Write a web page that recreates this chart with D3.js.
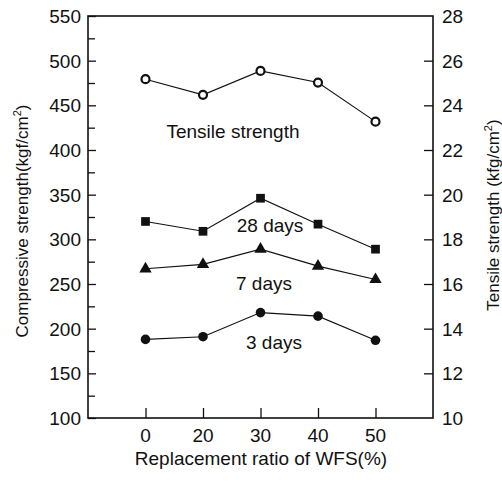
<!DOCTYPE html>
<html>
<head>
<meta charset="utf-8">
<script src="https://cdn.jsdelivr.net/npm/d3@7/dist/d3.min.js"></script>
<style>
  html, body { margin: 0; padding: 0; background: #fff; }
  svg { display: block; }
  text { font-family: "Liberation Sans", Arial, Helvetica, sans-serif; fill: #111; }
</style>
</head>
<body>
<svg id="chart" width="502" height="481"></svg>
<script>
// WFS replacement ratios (%) on the x axis
const ratios = ["0", "20", "30", "40", "50"];

// Compressive strength (kgf/cm²), left axis
const days3  = [188, 191, 218, 214, 187];
const days7  = [267, 272, 289, 270, 255];
const days28 = [320, 309, 346, 317, 289];

// Tensile strength (kgf/cm²), right axis
const tensile = [25.17, 24.47, 25.54, 25.02, 23.27];

const leftTicks  = [100, 150, 200, 250, 300, 350, 400, 450, 500, 550];
const leftMinor  = [125, 175, 225, 275, 325, 375, 425, 475, 525];
const rightTicks = [10, 12, 14, 16, 18, 20, 22, 24, 26, 28];

const svg = d3.select("#chart");
const plot = { left: 88, right: 433, top: 16, bottom: 418 };

// categories are evenly spaced with one slot of padding on both ends
const x = d3.scaleLinear().domain([-1, ratios.length]).range([plot.left, plot.right]);
const yL = d3.scaleLinear().domain([100, 550]).range([plot.bottom, plot.top]);
const yR = d3.scaleLinear().domain([10, 28]).range([plot.bottom, plot.top]);

const FS = 19;

// frame
svg.append("rect")
  .attr("x", plot.left).attr("y", plot.top)
  .attr("width", plot.right - plot.left).attr("height", plot.bottom - plot.top)
  .attr("fill", "none").attr("stroke", "#111").attr("stroke-width", 1.6);

// left axis: inward ticks, labels outside
const gL = svg.append("g").attr("transform", `translate(${plot.left},0)`);
gL.call(d3.axisRight(yL).tickValues(leftTicks).tickSize(8).tickFormat(""));
gL.append("g").call(d3.axisRight(yL).tickValues(leftMinor).tickSize(7).tickFormat(""));
gL.selectAll(".domain").remove();
gL.selectAll("line").attr("stroke", "#111").attr("stroke-width", 1.3);
gL.selectAll("text.lbl").data(leftTicks).join("text").attr("class", "lbl")
  .attr("x", -7).attr("y", d => yL(d)).attr("dy", "0.36em")
  .attr("text-anchor", "end").style("font-size", FS + "px").text(d => d);

// right axis
const gR = svg.append("g").attr("transform", `translate(${plot.right},0)`);
gR.call(d3.axisLeft(yR).tickValues(rightTicks.slice(1, -1)).tickSize(9).tickFormat(""));
gR.selectAll(".domain").remove();
gR.selectAll("line").attr("stroke", "#111").attr("stroke-width", 1.3);
gR.selectAll("text.lbl").data(rightTicks).join("text").attr("class", "lbl")
  .attr("x", 9).attr("y", d => yR(d)).attr("dy", "0.36em")
  .attr("text-anchor", "start").style("font-size", FS + "px").text(d => d);

// bottom axis: upward ticks at each category
const gB = svg.append("g").attr("transform", `translate(0,${plot.bottom})`);
gB.call(d3.axisTop(x).tickValues(d3.range(ratios.length)).tickSize(10).tickFormat(""));
gB.selectAll(".domain").remove();
gB.selectAll("line").attr("stroke", "#111").attr("stroke-width", 1.3);
gB.selectAll("text.lbl").data(ratios).join("text").attr("class", "lbl")
  .attr("x", (d, i) => x(i)).attr("y", 24)
  .attr("text-anchor", "middle").style("font-size", FS + "px").text(d => d);

// axis titles
svg.append("text").attr("x", 261).attr("y", 465)
  .attr("text-anchor", "middle").style("font-size", FS + "px")
  .text("Replacement ratio of WFS(%)");

const tl = svg.append("text")
  .attr("transform", `translate(22,${221}) rotate(-90)`)
  .attr("dy", "0.35em").attr("text-anchor", "middle").style("font-size", "17px");
tl.append("tspan").text("Compressive strength(kgf/cm");
tl.append("tspan").attr("dy", -7).style("font-size", "11px").text("2");
tl.append("tspan").attr("dy", 7).text(")");

const tr = svg.append("text")
  .attr("transform", `translate(493,${215}) rotate(-90)`)
  .attr("dy", "0.35em").attr("text-anchor", "middle").style("font-size", "17px");
tr.append("tspan").text("Tensile strength (kfg/cm");
tr.append("tspan").attr("dy", -7).style("font-size", "11px").text("2");
tr.append("tspan").attr("dy", 7).text(")");

// series
const series = [
  { values: tensile, y: yR, marker: "open" },
  { values: days28, y: yL, marker: "square" },
  { values: days7, y: yL, marker: "triangle" },
  { values: days3, y: yL, marker: "circle" }
];

series.forEach(s => {
  const line = d3.line().x((d, i) => x(i)).y(d => s.y(d));
  svg.append("path").datum(s.values).attr("d", line)
    .attr("fill", "none").attr("stroke", "#111").attr("stroke-width", 1.1);

  const g = svg.append("g");
  if (s.marker === "open") {
    g.selectAll("circle").data(s.values).join("circle")
      .attr("cx", (d, i) => x(i)).attr("cy", d => s.y(d)).attr("r", 4)
      .attr("fill", "#fff").attr("stroke", "#111").attr("stroke-width", 2.2);
  } else if (s.marker === "circle") {
    g.selectAll("circle").data(s.values).join("circle")
      .attr("cx", (d, i) => x(i)).attr("cy", d => s.y(d)).attr("r", 4.8)
      .attr("fill", "#111");
  } else {
    const sym = s.marker === "square"
      ? d3.symbol().type(d3.symbolSquare).size(76)
      : d3.symbol().type(d3.symbolTriangle).size(66);
    g.selectAll("path").data(s.values).join("path")
      .attr("transform", (d, i) => `translate(${x(i)},${s.y(d)})`)
      .attr("d", sym).attr("fill", "#111");
  }
});

// series labels
const labels = [
  { text: "Tensile strength", cx: 233, cy: 131 },
  { text: "28 days", cx: 270, cy: 225 },
  { text: "7 days", cx: 264, cy: 283 },
  { text: "3 days", cx: 274, cy: 342 }
];
svg.selectAll("text.series").data(labels).join("text").attr("class", "series")
  .attr("x", d => d.cx).attr("y", d => d.cy).attr("dy", "0.36em")
  .attr("text-anchor", "middle").style("font-size", FS + "px").text(d => d.text);
</script>
</body>
</html>
